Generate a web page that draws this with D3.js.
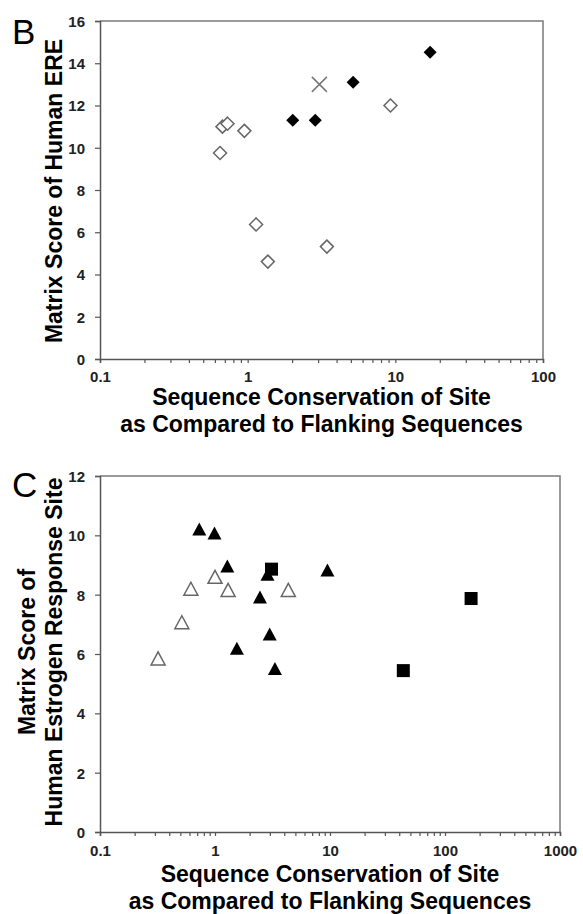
<!DOCTYPE html>
<html>
<head>
<meta charset="utf-8">
<script src="https://cdn.jsdelivr.net/npm/d3@7"></script>
<style>
    body { margin: 0; background: #fff; }
    svg { font-family: "Liberation Sans", Arial, sans-serif; }
</style>
</head>
<body>
<svg id="chart" width="583" height="914"></svg>
<script>
// Panel B: sequence conservation vs matrix score (human ERE)
let bOpenDiamonds = [[0.65, 9.75], [0.675, 11.0], [0.73, 11.14], [0.95, 10.8], [1.14, 6.37], [1.37, 4.61], [3.44, 5.32], [9.27, 12.0]],
    bFilledDiamonds = [[2.02, 11.3], [2.87, 11.3], [5.18, 13.1], [17.2, 14.52]],
    bCross = [[3.06, 13.0]],
    bXDomain = [0.1, 100],
    bYDomain = [0, 16],
    bYTicks = [0, 2, 4, 6, 8, 10, 12, 14, 16]

// Panel C: estrogen response sites
let cFilledTriangles = [[0.73, 10.21], [0.99, 10.08], [1.28, 8.97], [2.46, 7.92], [2.86, 8.69], [2.99, 6.67], [1.55, 6.19], [3.32, 5.51], [9.5, 8.83]],
    cSquares = [[3.1, 8.86], [43.4, 5.44], [168.6, 7.87]],
    cOpenTriangles = [[0.32, 5.85], [0.515, 7.07], [0.617, 8.2], [1.0, 8.6], [1.3, 8.16], [4.34, 8.16]],
    cXDomain = [0.1, 1000],
    cYDomain = [0, 12],
    cYTicks = [0, 2, 4, 6, 8, 10, 12]

let xTitle = ['Sequence Conservation of Site', 'as Compared to Flanking Sequences']

let svg = d3.select('#chart')

function logTicks(domain) {
    let out = []
    for (let p = Math.log10(domain[0]); p < Math.log10(domain[1]); p++) {
        for (let k = 1; k < 10; k++) out.push(k * Math.pow(10, p))
    }
    out.push(domain[1])
    return out
}

function isDecade(d) {
    let l = Math.log10(d)
    return Math.abs(l - Math.round(l)) < 1e-9
}

function panel(opts) {
    let x = d3.scaleLog().domain(opts.xDomain).range([opts.left, opts.right]),
        y = d3.scaleLinear().domain(opts.yDomain).range([opts.bottom, opts.top])

    let g = svg.append('g')

    // frame top + right
    g.append('path')
        .attr('d', `M${opts.left},${opts.top}H${opts.right}V${opts.bottom}`)
        .attr('fill', 'none')
        .attr('stroke', '#7a7a7a')
        .attr('stroke-width', 1.5)

    g.append('g')
        .attr('transform', `translate(0,${opts.bottom})`)
        .call(d3.axisBottom(x)
            .tickValues(logTicks(opts.xDomain))
            .tickSize(4)
            .tickPadding(opts.xPad)
            .tickFormat(d => isDecade(d) ? d3.format('~g')(d) : ''))

    let yAxis = g.append('g')
        .attr('transform', `translate(${opts.left},0)`)
        .call(d3.axisLeft(y).tickValues(opts.yTicks).tickSize(5).tickPadding(10))

    g.selectAll('.domain').attr('stroke', '#555').attr('stroke-width', 1.5)
    g.selectAll('.tick line').attr('stroke', '#555').attr('stroke-width', 1.2)
    g.selectAll('.tick text')
        .style('font-family', '"Liberation Sans", Arial, sans-serif')
        .style('font-weight', 'bold')
        .style('font-size', '15px')
        .attr('fill', '#222')
    yAxis.selectAll('.tick text').attr('dy', '0.36em')

    // panel letter
    g.append('text')
        .attr('x', 12)
        .attr('y', opts.letterY)
        .style('font-size', '35px')
        .text(opts.letter)

    // y title lines
    opts.yTitle.forEach((t, i) => {
        g.append('text')
            .attr('transform', `translate(${opts.yTitleX[i]},${opts.yTitleCy}) rotate(-90)`)
            .attr('text-anchor', 'middle')
            .style('font-size', '23px')
            .style('font-weight', 'bold')
            .text(t)
    })

    // x title lines
    xTitle.forEach((t, i) => {
        g.append('text')
            .attr('x', (opts.left + opts.right) / 2)
            .attr('y', opts.xTitleY + i * 27)
            .attr('text-anchor', 'middle')
            .style('font-size', '23px')
            .style('font-weight', 'bold')
            .text(t)
    })

    return { g: g, x: x, y: y }
}

let diamond = 'M0,-6.5L6.5,0L0,6.5L-6.5,0Z',
    triangle = 'M0,-6.5L7,6.5L-7,6.5Z',
    square = 'M-6.5,-6.5H6.5V6.5H-6.5Z'

function marks(p, data, shape, fill, stroke) {
    p.g.append('g')
        .selectAll('path')
        .data(data)
        .enter()
        .append('path')
        .attr('d', shape)
        .attr('transform', d => `translate(${p.x(d[0])},${p.y(d[1])})`)
        .attr('fill', fill)
        .attr('stroke', stroke)
        .attr('stroke-width', stroke == 'none' ? 0 : 1.5)
}

// ---- B
let pB = panel({
    left: 100, right: 543, top: 21, bottom: 359,
    xDomain: bXDomain, yDomain: bYDomain, yTicks: bYTicks,
    xPad: 8, letter: 'B', letterY: 44,
    yTitle: ['Matrix Score of Human ERE'], yTitleX: [62], yTitleCy: 191,
    xTitleY: 405
})

marks(pB, bOpenDiamonds, diamond, '#fff', '#666')
marks(pB, bFilledDiamonds, diamond, '#000', 'none')

pB.g.append('g')
    .selectAll('path')
    .data(bCross)
    .enter()
    .append('path')
    .attr('d', 'M-7.5,-7.5L7.5,7.5M-7.5,7.5L7.5,-7.5')
    .attr('transform', d => `translate(${pB.x(d[0])},${pB.y(d[1])})`)
    .attr('stroke', '#777')
    .attr('stroke-width', 1.5)

// ---- C
let pC = panel({
    left: 100, right: 560, top: 476, bottom: 832,
    xDomain: cXDomain, yDomain: cYDomain, yTicks: cYTicks,
    xPad: 9, letter: 'C', letterY: 497,
    yTitle: ['Matrix Score of', 'Human Estrogen Response Site'], yTitleX: [35, 62], yTitleCy: 652,
    xTitleY: 882
})

marks(pC, cOpenTriangles, triangle, '#fff', '#666')
marks(pC, cFilledTriangles, triangle, '#000', 'none')
marks(pC, cSquares, square, '#000', 'none')
</script>
</body>
</html>
